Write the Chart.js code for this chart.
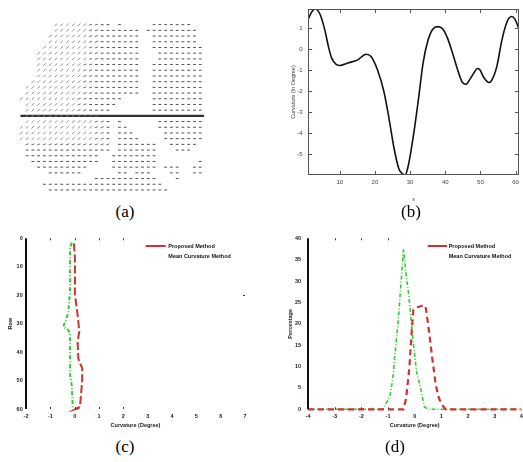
<!DOCTYPE html>
<html><head><meta charset="utf-8">
<script src="https://cdn.jsdelivr.net/npm/chart.js@4.4.1/dist/chart.umd.min.js"></script>
<style>
html,body{margin:0;padding:0;background:#fff;width:523px;height:462px;overflow:hidden;position:relative;}
canvas{position:absolute;}
.lbl{position:absolute;font-family:"Liberation Serif","Times New Roman",serif;font-size:17px;color:#000;transform:translate(-50%,-50%);white-space:nowrap;line-height:1;}
</style></head><body>
<canvas id="ca" width="262" height="200" style="left:0;top:0;width:262px;height:200px"></canvas>
<canvas id="cb" width="261" height="210" style="left:262px;top:0;width:261px;height:210px"></canvas>
<canvas id="cc" width="262" height="210" style="left:0;top:225px;width:262px;height:210px"></canvas>
<canvas id="cd" width="265" height="210" style="left:262px;top:225px;width:265px;height:210px"></canvas>
<div class="lbl" style="left:125px;top:211px">(a)</div>
<div class="lbl" style="left:411px;top:211px">(b)</div>
<div class="lbl" style="left:125px;top:446px">(c)</div>
<div class="lbl" style="left:395px;top:446px">(d)</div>
<script>
// ---------- (a) vector field: rows of marks [y, [x0, x1, type], ...] ----------
const fieldRows = [
 [20.7, [52,84,'d'],[85,97,'m'],[98,112,'h'],[118,123,'h'],[153,193,'h']],
 [26.7, [48,84,'d'],[85,97,'m'],[98,137,'h'],[148,200,'h']],
 [32.7, [45,84,'d'],[85,97,'m'],[98,137,'h'],[153,200,'h']],
 [38.7, [42,84,'d'],[85,97,'m'],[98,137,'h'],[153,202,'h']],
 [44.7, [40,84,'d'],[85,97,'m'],[98,142,'h'],[153,207,'h']],
 [50.7, [35,84,'d'],[85,97,'m'],[98,137,'h'],[160,207,'h']],
 [56.7, [35,84,'d'],[85,97,'m'],[98,142,'h'],[160,207,'h']],
 [62.7, [32,78,'d'],[79,91,'m'],[92,142,'h'],[153,207,'h']],
 [68.7, [30,78,'d'],[79,91,'m'],[92,137,'h'],[153,207,'h']],
 [74.7, [30,78,'d'],[79,91,'m'],[92,137,'h'],[153,207,'h']],
 [80.7, [25,78,'d'],[79,91,'m'],[92,137,'h'],[153,207,'h']],
 [86.7, [23,78,'d'],[79,91,'m'],[92,137,'h'],[153,207,'h']],
 [92.7, [22,78,'d'],[79,91,'m'],[92,137,'h'],[153,207,'h']],
 [98.7, [17,72,'d'],[73,85,'m'],[86,123,'h'],[153,207,'h']],
 [104.7,[20,72,'d'],[73,85,'m'],[86,117,'h'],[153,207,'h']],
 [110.7,[18,72,'d'],[73,85,'m'],[86,112,'h'],[153,207,'h']],
 [116.7,[20,72,'d'],[73,97,'m']],
 [122.7,[18,90,'d'],[91,103,'m'],[104,112,'h'],[118,123,'h'],[160,207,'h']],
 [128.7,[17,90,'d'],[91,103,'m'],[104,112,'h'],[118,128,'h'],[160,207,'h']],
 [134.7,[17,90,'d'],[91,103,'m'],[104,112,'h'],[118,132,'h'],[167,207,'h']],
 [140.7,[17,90,'d'],[91,103,'m'],[104,112,'h'],[118,142,'h'],[167,207,'h']],
 [146.7,[20,112,'m'],[118,157,'h'],[172,202,'h']],
 [152.7,[23,107,'h'],[118,157,'h'],[178,195,'h']],
 [158.7,[23,98,'h'],[112,157,'h']],
 [164.7,[28,95,'h'],[112,157,'h'],[202,207,'h']],
 [170.7,[35,88,'h'],[112,157,'h'],[167,183,'h'],[195,207,'h']],
 [176.7,[45,82,'h'],[118,127,'h'],[133,152,'h'],[172,183,'h'],[195,207,'h']],
 [182.7,[93,160,'h'],[178,183,'h']],
 [188.7,[40,165,'h']],
 [194.7,[45,167,'h']]
];
const aCutX = [16, 207];
const aCutY = [116.7, 116.7];

// ---------- (b) curvature curve ----------
const bX = [1,2,3,4.4,5.8,6.8,7.7,9.1,10,12.3,15.1,17.5,18.9,20.7,22.6,24,25.4,26.8,28,28.6,29.6,31,32.4,33.7,35.1,36.5,37.9,39.3,40.7,42.1,43.5,44.9,45.9,47,48.2,49.1,49.8,51,52.4,53.3,54.7,56.1,57.5,58.9,59.8,61];
const bY = [1.4,1.75,1.9,1.65,0.87,0.1,-0.44,-0.75,-0.79,-0.67,-0.52,-0.25,-0.36,-0.98,-2.06,-3.3,-4.69,-5.7,-5.96,-6.0,-5.47,-4.07,-2.37,-0.67,0.41,0.95,1.06,0.95,0.49,-0.21,-0.98,-1.6,-1.68,-1.45,-1.13,-0.93,-0.98,-1.37,-1.6,-1.47,-0.82,0.41,1.26,1.54,1.42,0.95];
const bXTicks = [10,20,30,40,50,60];
const bYTicks = [-5,-4,-3,-2,-1,0,1];

// ---------- (c) ----------
const cRedX = [-0.03,0.01,0.01,0.08,0.15,0.19,0.12,0.15,0.22,0.31,0.31,0.26,0.22,0.05,0.25];
const cRedY = [1.8,7,19.9,24,29.3,32.8,36.3,42.2,43.9,45.7,49.8,55.1,59.2,60,59.5];
const cGreenX = [-0.12,-0.19,-0.19,-0.26,-0.33,-0.47,-0.26,-0.19,-0.19,-0.12,-0.08,-0.03];
const cGreenY = [1.5,3.5,18.8,25.8,28.1,31.1,32.2,34,48,51.6,59.2,60];
const cXTicks = [-2,-1,0,1,2,3,4,5,6,7];
const cYTicks = [0,10,20,30,40,50,60];

// ---------- (d) ----------
const dRedX = [-4,-0.42,-0.32,-0.2,-0.13,-0.05,0.05,0.17,0.36,0.42,0.54,0.66,0.79,0.91,1.03,1.16,4];
const dRedY = [0,0,2.6,9.6,16.6,23.2,23.8,24,24.4,23.6,18.2,11.9,5.7,2.6,1.0,0,0];
const dGreenX = [-4,-1.2,-0.93,-0.81,-0.75,-0.63,-0.5,-0.42,-0.32,-0.22,-0.07,0.07,0.24,0.36,0.48,4];
const dGreenY = [0,0,3.0,7.6,12.3,19.7,30.6,37.5,31.4,26.7,16.6,8.8,4.5,0.6,0,0];
const dXTicks = [-4,-3,-2,-1,0,1,2,3,4];
const dYTicks = [0,5,10,15,20,25,30,35,40];

const legendTexts = ['Proposed Method', 'Mean Curvature Method'];

// ---------- helpers ----------
const RED = '#cc3333', GREEN = '#33cc33';
const pts = (xs, ys) => xs.map((x, i) => ({x, y: ys[i]}));
function buildMarks(type) {
  const out = [];
  for (const row of fieldRows) {
    const y = row[0];
    for (let i = 1; i < row.length; i++) {
      const [x0, x1, t] = row[i];
      if (t !== type) continue;
      for (let x = 17 + Math.ceil((x0 - 17) / 6) * 6; x <= x1 + 0.01; x += 6) out.push({x, y});
    }
  }
  return out;
}
function axis(o) {
  return {
    type: 'linear', min: o.min, max: o.max, reverse: !!o.reverse, position: o.pos,
    grid: {display: false, drawTicks: false}, border: {display: false},
    afterBuildTicks: s => { s.ticks = o.ticks.map(v => ({value: v})); },
    afterFit: s => { if (o.pos === 'left') s.width = o.size; else s.height = o.size; },
    ticks: {autoSkip: false, maxRotation: 0, minRotation: 0, padding: o.pad, color: o.color,
      font: {family: 'Liberation Sans', size: o.fs, weight: o.fw || 'normal'}, callback: v => String(v)},
    title: {display: true, text: o.title, color: o.color, font: {family: 'Liberation Sans', size: o.tfs, weight: o.fw || 'normal'},
      padding: o.pos === 'left' ? {top: o.tpad, bottom: 0} : {top: 0, bottom: o.tpad}}
  };
}
const decorCfg = {
  cb: {box: {color: '#555', width: 1},
       marks: [{axis:'x', side:'bottom', values:bXTicks, len:4, color:'#555'},
               {axis:'x', side:'top', values:bXTicks, len:4, color:'#555'},
               {axis:'y', side:'left', values:bYTicks, len:4, color:'#555'},
               {axis:'y', side:'right', values:bYTicks, len:4, color:'#555'}]},
  cc: {axisLine: {color: '#111', width: 2},
       marks: [{axis:'x', side:'top', values:[-1,0,1,2], len:2, color:'#333'},
               {axis:'x', side:'bottom', values:[-1,0,1,2], len:2, color:'#333'},
               {axis:'y', side:'right', values:[20], len:2, color:'#333'}],
       legend: {x0: 145.7, x1: 165.7, tx: 168.3, y: 21, gap: 10.7}},
  cd: {axisLine: {color: '#111', width: 2},
       marks: [{axis:'x', side:'top', values:[-3,-2,-1], len:2, color:'#333'},
               {axis:'x', side:'bottom', values:[-3,-2,-1], len:2, color:'#333'}],
       legend: {x0: 165.7, x1: 185, tx: 186.7, y: 21, gap: 10.7}}
};
const decor = {
  id: 'decor',
  afterDraw(chart) {
    const o = decorCfg[chart.canvas.id]; if (!o) return;
    const ctx = chart.ctx, a = chart.chartArea;
    ctx.save();
    if (o.box) {
      ctx.strokeStyle = o.box.color; ctx.lineWidth = o.box.width;
      ctx.strokeRect(Math.round(a.left) + 0.5, Math.round(a.top) + 0.5, Math.round(a.right - a.left) - 1, Math.round(a.bottom - a.top) - 1);
    }
    if (o.axisLine) {
      ctx.strokeStyle = o.axisLine.color; ctx.lineWidth = o.axisLine.width;
      ctx.beginPath(); ctx.moveTo(a.left, a.top); ctx.lineTo(a.left, a.bottom); ctx.stroke();
    }
    (o.marks || []).forEach(m => {
      const sc = chart.scales[m.axis];
      ctx.strokeStyle = m.color; ctx.lineWidth = 1;
      m.values.forEach(v => {
        const p = Math.round(sc.getPixelForValue(v)) + 0.5;
        ctx.beginPath();
        if (m.side === 'bottom') { ctx.moveTo(p, a.bottom); ctx.lineTo(p, a.bottom - m.len); }
        else if (m.side === 'top') { ctx.moveTo(p, a.top); ctx.lineTo(p, a.top + m.len); }
        else if (m.side === 'left') { ctx.moveTo(a.left, p); ctx.lineTo(a.left + m.len, p); }
        else { ctx.moveTo(a.right, p); ctx.lineTo(a.right - m.len, p); }
        ctx.stroke();
      });
    });
    if (o.legend) {
      const L = o.legend;
      ctx.strokeStyle = RED; ctx.lineWidth = 2;
      ctx.beginPath(); ctx.moveTo(L.x0, L.y); ctx.lineTo(L.x1, L.y); ctx.stroke();
      ctx.fillStyle = '#111'; ctx.font = 'bold 5.5px "Liberation Sans"'; ctx.textBaseline = 'middle'; ctx.textAlign = 'left';
      legendTexts.forEach((t, i) => ctx.fillText(t, L.tx, L.y + i * L.gap));
    }
    ctx.restore();
  }
};
const common = {responsive: false, animation: false, events: [], devicePixelRatio: 1,
  plugins: {legend: {display: false}, tooltip: {enabled: false}}};

// ---------- chart (a) ----------
new Chart(document.getElementById('ca'), {
  type: 'scatter',
  data: {datasets: [
    {data: buildMarks('d'), pointStyle: 'line', pointRotation: -45, pointRadius: 1.7, pointBorderColor: '#8a8a8a', pointBorderWidth: 1, showLine: false},
    {data: buildMarks('m'), pointStyle: 'line', pointRotation: -20, pointRadius: 1.6, pointBorderColor: '#707070', pointBorderWidth: 1, showLine: false},
    {data: buildMarks('h'), pointStyle: 'line', pointRotation: 0, pointRadius: 1.4, pointBorderColor: '#505050', pointBorderWidth: 1, showLine: false},
    {data: pts(aCutX, aCutY), showLine: true, borderColor: '#333', borderWidth: 2.2, pointRadius: 0}
  ]},
  options: Object.assign({}, common, {layout: {padding: 0},
    scales: {x: {type: 'linear', min: 0, max: 262, display: false},
             y: {type: 'linear', min: 0, max: 200, reverse: true, display: false}}})
});

// ---------- chart (b) ----------
new Chart(document.getElementById('cb'), {
  type: 'scatter',
  data: {datasets: [{data: pts(bX, bY), showLine: true, borderColor: '#111', borderWidth: 1.6, pointRadius: 0, cubicInterpolationMode: 'monotone'}]},
  options: Object.assign({}, common, {layout: {padding: {left: 0, top: 4.7, right: 0.1, bottom: 0}},
    scales: {
      x: axis({min: 1, max: 61, pos: 'bottom', ticks: bXTicks, size: 35, pad: 4.1, color: '#444', fs: 6, title: 'x', tfs: 5.5, tpad: 7.4}),
      y: axis({min: -6, max: 1.9, pos: 'left', ticks: bYTicks, size: 46.1, pad: 5.4, color: '#444', fs: 6, title: 'Curvature (In Degree)', tfs: 5.5, tpad: 28.4})
    }}),
  plugins: [decor]
});

// ---------- chart (c) ----------
new Chart(document.getElementById('cc'), {
  type: 'scatter',
  data: {datasets: [
    {data: pts(cGreenX, cGreenY), showLine: true, borderColor: GREEN, borderWidth: 2, borderDash: [4, 2, 1, 2], pointRadius: 0, clip: 4},
    {data: pts(cRedX, cRedY), showLine: true, borderColor: RED, borderWidth: 2, borderDash: [8, 3], pointRadius: 0, clip: 4}
  ]},
  options: Object.assign({}, common, {layout: {padding: {left: 0, top: 13.3, right: 17, bottom: 0}},
    scales: {
      x: axis({min: -2, max: 7, pos: 'bottom', ticks: cXTicks, size: 26, pad: 4.4, color: '#222', fs: 5.5, fw: 'bold', title: 'Curvature (Degree)', tfs: 5.5, tpad: 6.7}),
      y: axis({min: 0, max: 60, reverse: true, pos: 'left', ticks: cYTicks, size: 26, pad: 3.3, color: '#222', fs: 5.5, fw: 'bold', title: 'Row', tfs: 5.5, tpad: 6.7})
    }}),
  plugins: [decor]
});

// ---------- chart (d) ----------
new Chart(document.getElementById('cd'), {
  type: 'scatter',
  data: {datasets: [
    {data: pts(dRedX, dRedY), showLine: true, borderColor: RED, borderWidth: 2.2, borderDash: [6, 4], pointRadius: 0, clip: 4},
    {data: pts(dGreenX, dGreenY), showLine: true, borderColor: GREEN, borderWidth: 1.6, borderDash: [4, 2, 1, 2], pointRadius: 0, clip: 4}
  ]},
  options: Object.assign({}, common, {layout: {padding: {left: 0, top: 13.3, right: 1.9, bottom: 0}},
    scales: {
      x: axis({min: -4, max: 4, pos: 'bottom', ticks: dXTicks, size: 25.7, pad: 4.1, color: '#222', fs: 5.5, fw: 'bold', title: 'Curvature (Degree)', tfs: 5.5, tpad: 6.7}),
      y: axis({min: 0, max: 40, pos: 'left', ticks: dYTicks, size: 46, pad: 7, color: '#222', fs: 5.5, fw: 'bold', title: 'Percentage', tfs: 5.5, tpad: 24.7})
    }}),
  plugins: [decor]
});
</script>
</body></html>
